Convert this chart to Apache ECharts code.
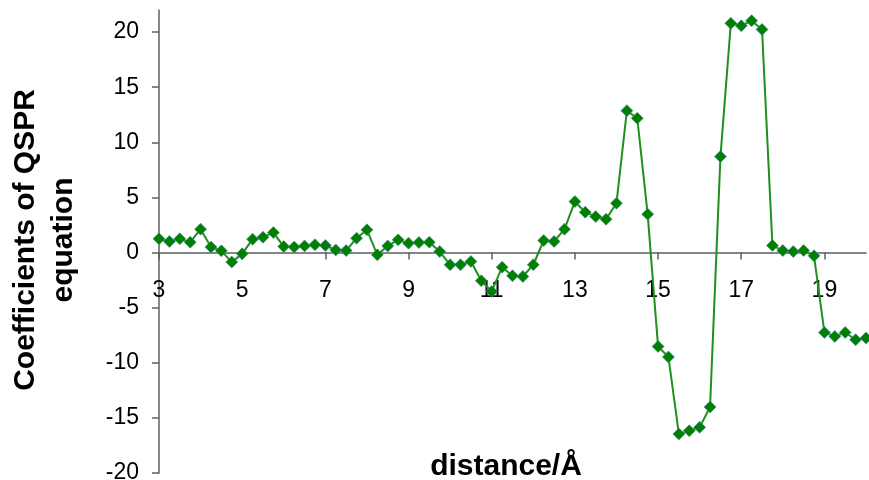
<!DOCTYPE html>
<html>
<head>
<meta charset="utf-8">
<title>Coefficients of QSPR equation</title>
<script src="https://cdn.jsdelivr.net/npm/echarts@6/dist/echarts.min.js"></script>
<style>
	html, body { margin: 0; padding: 0; background: #ffffff; }
	#main { width: 869px; height: 480px; }
</style>
</head>
<body>
<div id="main"></div>
<script>
// 距离（Å）
var distance = [3, 3.25, 3.5, 3.75, 4, 4.25, 4.5, 4.75, 5, 5.25, 5.5, 5.75,
	6, 6.25, 6.5, 6.75, 7, 7.25, 7.5, 7.75, 8, 8.25, 8.5, 8.75,
	9, 9.25, 9.5, 9.75, 10, 10.25, 10.5, 10.75, 11, 11.25, 11.5, 11.75,
	12, 12.25, 12.5, 12.75, 13, 13.25, 13.5, 13.75, 14, 14.25, 14.5, 14.75,
	15, 15.25, 15.5, 15.75, 16, 16.25, 16.5, 16.75, 17, 17.25, 17.5, 17.75,
	18, 18.25, 18.5, 18.75, 19, 19.25, 19.5, 19.75, 20];
// QSPR方程系数
var coefficients = [1.24, 1.0, 1.24, 0.94, 2.12, 0.49, 0.15, -0.87, -0.12, 1.21, 1.39, 1.81,
	0.54, 0.49, 0.6, 0.7, 0.64, 0.24, 0.18, 1.3, 2.06, -0.21, 0.6, 1.15,
	0.85, 0.91, 0.94, 0.09, -1.11, -1.11, -0.81, -2.56, -3.53, -1.33, -2.11, -2.17,
	-1.11, 1.09, 1.0, 2.12, 4.62, 3.66, 3.26, 3.02, 4.48, 12.87, 12.18, 3.48,
	-8.52, -9.48, -16.46, -16.16, -15.86, -14.01, 8.7, 20.79, 20.57, 21.03, 20.24, 0.64,
	0.18, 0.09, 0.18, -0.3, -7.25, -7.61, -7.25, -7.91, -7.76];
var yTicks = [-20, -15, -10, -5, 0, 5, 10, 15, 20];

var xTitle = 'distance/Å';
var yTitle = 'Coefficients of QSPR\nequation';

var axisColor = '#5f5f5f';
var fontName = '"Liberation Sans", Arial, sans-serif';

// 网格位置：y轴 -20..22，x轴放在 y=0 处
var gridTop = 10;
var gridBottom = 7;
var chartHeight = 480;
var plotHeight = chartHeight - gridTop - gridBottom;
var zeroOffset = -plotHeight * 20 / 42;

var chart = echarts.init(document.getElementById('main'));

var option = {
	animation: false,
	backgroundColor: '#ffffff',
	grid: {
		left: 159,
		right: 3,
		top: gridTop,
		bottom: gridBottom,
		containLabel: false,
		outerBoundsMode: 'none'
	},
	xAxis: {
		type: 'category',
		boundaryGap: false,
		data: distance,
		offset: zeroOffset,
		axisLine: {
			onZero: false,
			lineStyle: { color: axisColor, width: 1.5 }
		},
		axisTick: {
			show: true,
			interval: 7,
			length: 7,
			lineStyle: { color: axisColor, width: 1.5 }
		},
		axisLabel: {
			interval: 7,
			margin: 27,
			color: '#000',
			fontSize: 23,
			fontFamily: fontName
		},
		splitLine: { show: false }
	},
	yAxis: {
		type: 'value',
		min: -20,
		max: 22,
		interval: 5,
		axisLine: {
			show: true,
			onZero: false,
			lineStyle: { color: axisColor, width: 1.5 }
		},
		axisTick: {
			show: true,
			length: 7,
			customValues: yTicks,
			lineStyle: { color: axisColor, width: 1.5 }
		},
		axisLabel: {
			margin: 20,
			customValues: yTicks,
			color: '#000',
			fontSize: 23,
			fontFamily: fontName
		},
		splitLine: { show: false }
	},
	graphic: [
		{
			type: 'text',
			x: 506,
			y: 467,
			style: {
				text: xTitle,
				font: 'bold 30px ' + fontName,
				textAlign: 'center',
				textVerticalAlign: 'middle',
				align: 'center',
				verticalAlign: 'middle',
				fill: '#000'
			}
		},
		{
			type: 'text',
			x: 45,
			y: 240,
			rotation: Math.PI / 2,
			style: {
				text: yTitle,
				font: 'bold 30px ' + fontName,
				lineHeight: 38,
				textAlign: 'center',
				textVerticalAlign: 'middle',
				align: 'center',
				verticalAlign: 'middle',
				fill: '#000'
			}
		}
	],
	series: [
		{
			type: 'line',
			data: coefficients,
			symbol: 'diamond',
			symbolSize: 12,
			showAllSymbol: true,
			lineStyle: { color: '#1f8f1f', width: 2 },
			itemStyle: {
				color: '#008000',
				borderColor: '#4a86a8',
				borderWidth: 0.6
			}
		}
	]
};

chart.setOption(option);
</script>
</body>
</html>
